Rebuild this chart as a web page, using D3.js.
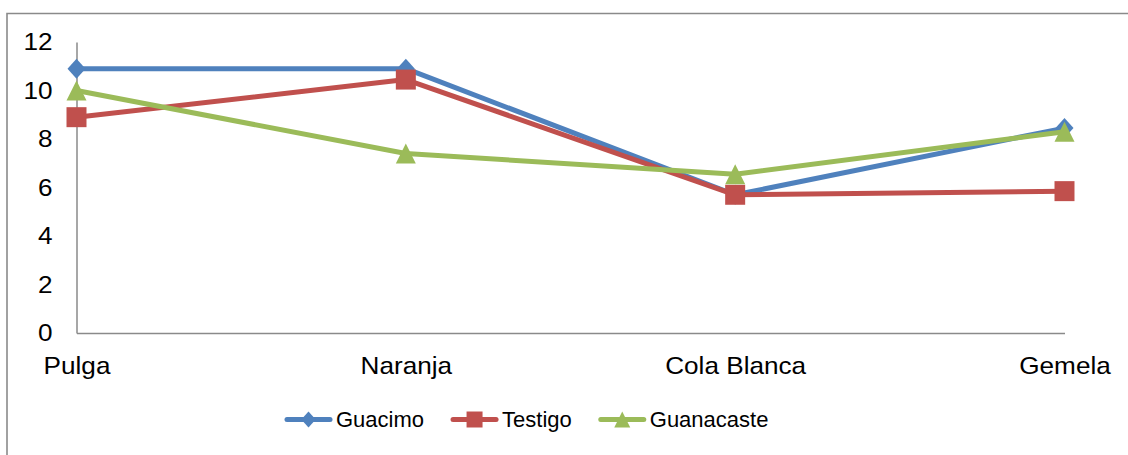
<!DOCTYPE html>
<html>
<head>
<meta charset="utf-8">
<script src="https://cdn.jsdelivr.net/npm/d3@7"></script>
<style>
  html, body { margin: 0; padding: 0; background: #fff; }
  svg { display: block; font-family: "Liberation Sans", Arial, sans-serif; }
</style>
</head>
<body>
<svg id="chart" width="1128" height="455"></svg>
<script>
// Categories and series values
const categories = ["Pulga", "Naranja", "Cola Blanca", "Gemela"];
const guacimo    = [10.9, 10.9, 5.7, 8.45];
const testigo    = [8.9, 10.45, 5.7, 5.85];
const guanacaste = [10.0, 7.4, 6.55, 8.3];
const yTicks     = [0, 2, 4, 6, 8, 10, 12];
const seriesNames = ["Guacimo", "Testigo", "Guanacaste"];

const colors = ["#4F81BD", "#C0504D", "#9BBB59"];

// Axis labels are set slightly wide
const labelStretch = 1.09;

// Marker shapes, drawn around the origin
const shapes = {
  diamond: s => `M0,${-s / 2}L${s * 0.45},0L0,${s / 2}L${-s * 0.45},0Z`,
  square: s => `M${-s / 2},${-s / 2}H${s / 2}V${s / 2}H${-s / 2}Z`,
  triangle: s => `M0,${-s / 2}L${s / 2},${s / 2}L${-s / 2},${s / 2}Z`
};
const shapeKeys = ["diamond", "square", "triangle"];

const series = [guacimo, testigo, guanacaste].map((vals, i) => ({
  name: seriesNames[i],
  color: colors[i],
  shape: shapeKeys[i],
  values: vals.map((v, j) => ({ cat: categories[j], v }))
}));

const svg = d3.select("#chart");

// Chart-area frame
svg.append("path")
  .attr("d", "M7,455V13.5H1128")
  .attr("fill", "none")
  .attr("stroke", "#8a8a8a")
  .attr("stroke-width", 1.6);

const x = d3.scalePoint().domain(categories).range([76.5, 1064.5]).padding(0);
const y = d3.scaleLinear().domain([0, 12]).range([333, 42]);

// Y axis
const yAxis = svg.append("g")
  .attr("transform", "translate(76.5,0)")
  .call(d3.axisLeft(y).tickValues(yTicks).tickSize(0).tickSizeOuter(0).tickPadding(24));
yAxis.select(".domain").attr("stroke", "#8a8a8a").attr("stroke-width", 1.5);
yAxis.selectAll("text")
  .attr("x", -24 / labelStretch)
  .attr("transform", `scale(${labelStretch},1)`)
  .attr("font-size", 24)
  .attr("font-family", "Liberation Sans, Arial, sans-serif")
  .attr("fill", "#000");

// X axis
const xAxis = svg.append("g")
  .attr("transform", "translate(0,333)")
  .call(d3.axisBottom(x).tickSize(0).tickSizeOuter(0).tickPadding(0));
xAxis.select(".domain").attr("stroke", "#8a8a8a").attr("stroke-width", 1.5);
xAxis.selectAll("text")
  .attr("y", 41)
  .attr("dy", null)
  .attr("transform", `scale(${labelStretch},1)`)
  .attr("font-size", 24)
  .attr("font-family", "Liberation Sans, Arial, sans-serif")
  .attr("fill", "#000");

// Lines and markers
const line = d3.line().x(d => x(d.cat)).y(d => y(d.v));

series.forEach(s => {
  const g = svg.append("g");
  g.append("path")
    .datum(s.values)
    .attr("d", line)
    .attr("fill", "none")
    .attr("stroke", s.color)
    .attr("stroke-width", 5)
    .attr("stroke-linejoin", "round");
  g.selectAll("path.marker")
    .data(s.values)
    .join("path")
    .attr("class", "marker")
    .attr("transform", d => `translate(${x(d.cat)},${y(d.v)})`)
    .attr("d", shapes[s.shape](20))
    .attr("fill", s.color);
});

// Legend
const legend = svg.append("g").attr("transform", "translate(285,419.5)");
let lx = 0;
series.forEach(s => {
  const item = legend.append("g").attr("transform", `translate(${lx},0)`);
  item.append("line")
    .attr("x1", 2).attr("x2", 45)
    .attr("stroke", s.color)
    .attr("stroke-width", 5)
    .attr("stroke-linecap", "round");
  item.append("path")
    .attr("transform", "translate(23.5,0)")
    .attr("d", shapes[s.shape](16))
    .attr("fill", s.color);
  const t = item.append("text")
    .attr("x", 51)
    .attr("dy", "0.35em")
    .attr("font-size", 22)
    .attr("fill", "#000")
    .text(s.name);
  lx += 51 + t.node().getComputedTextLength() + 27;
});
</script>
</body>
</html>
